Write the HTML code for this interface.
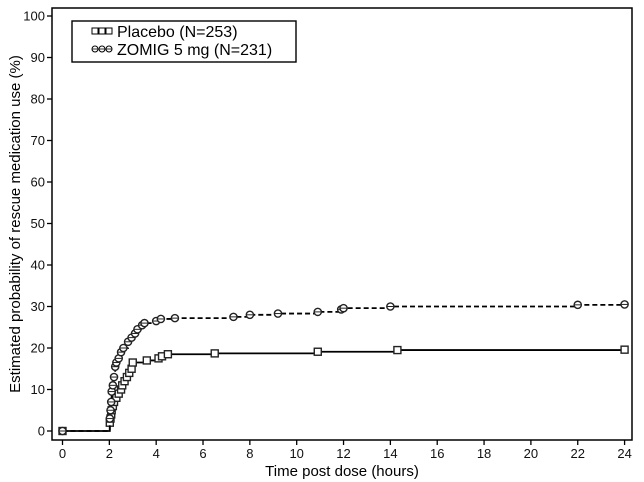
<!DOCTYPE html>
<html><head><meta charset="utf-8"><style>
body{margin:0;background:#fff;}
svg{display:block;font-family:"Liberation Sans",sans-serif;}
</style></head><body>
<svg id="chart" width="644" height="482" viewBox="0 0 644 482"></svg>
<script>
const xTicks=[0,2,4,6,8,10,12,14,16,18,20,22,24];
const yTicks=[0,10,20,30,40,50,60,70,80,90,100];
const placeboTimes=[0,2,2.02,2.05,2.08,2.1,2.15,2.2,2.3,2.4,2.5,2.55,2.65,2.75,2.85,2.95,3.0,3.6,4.1,4.25,4.5,6.5,10.9,14.3,24];
const placeboProb=[0,0,2,3,4,5,6,7,8,9,10,11,12,13,14,15,16.5,17,17.5,18,18.5,18.7,19.1,19.5,19.6];
const zomigTimes=[0,2,2.02,2.05,2.08,2.1,2.15,2.2,2.25,2.3,2.4,2.5,2.6,2.8,2.95,3.1,3.2,3.4,3.5,4.0,4.2,4.8,7.3,8,9.2,10.9,11.9,12.0,14,22,24];
const zomigProb=[0,0,3,5,7,9.5,11,13,15.5,16.5,17.5,19,20,21.5,22.5,23.5,24.5,25.5,26,26.5,27,27.2,27.5,28,28.3,28.7,29.3,29.6,30,30.4,30.5];
const NS="http://www.w3.org/2000/svg";
const svg=document.getElementById('chart');
const X=t=>62.5+t*23.42;
const Y=p=>431-p*4.15;
function mk(tag,at,parent){const e=document.createElementNS(NS,tag);for(const k in at)e.setAttribute(k,at[k]);(parent||svg).appendChild(e);return e;}
const frame=mk('rect',{x:52,y:8,width:580,height:432,fill:'none',stroke:'#000','stroke-width':1.5});


xTicks.forEach(t=>{
  mk('line',{x1:X(t),x2:X(t),y1:440,y2:445,stroke:'#000','stroke-width':1.3});
  const tx=mk('text',{x:X(t),y:458,'text-anchor':'middle','font-size':13,fill:'#111'});
  tx.textContent=t;
  
  
});
yTicks.forEach(v=>{
  mk('line',{x1:47,x2:52,y1:Y(v),y2:Y(v),stroke:'#000','stroke-width':1.3});
  const tx=mk('text',{x:45,y:Y(v)+4.5,'text-anchor':'end','font-size':13,fill:'#111'});
  tx.textContent=v;
  
  
});
const xt=mk('text',{x:342,y:476,'text-anchor':'middle','font-size':15});
xt.textContent='Time post dose (hours)';


const yt=mk('text',{x:0,y:0,'text-anchor':'middle','font-size':15,transform:'translate(20,224) rotate(-90)'});
yt.textContent='Estimated probability of rescue medication use (%)';


function stepPath(ts,ps){let d='M'+X(ts[0])+','+Y(ps[0]);for(let i=1;i<ts.length;i++){d+=' H'+X(ts[i])+' V'+Y(ps[i]);}return d;}
function series(ts,ps,dash,marker,name){
  const g=mk('g',{});
  
  
  mk('path',{d:stepPath(ts,ps),fill:'none',stroke:'#000','stroke-width':1.8,'stroke-dasharray':dash},g);
  for(let i=0;i<ts.length;i++){
    if(i==1)continue;
    let m;
    if(marker==='sq'){m=mk('rect',{x:X(ts[i])-3.5,y:Y(ps[i])-3.5,width:7,height:7,fill:'#fff',stroke:'#222','stroke-width':1.4},g);}
    else{m=mk('circle',{cx:X(ts[i]),cy:Y(ps[i]),r:3.6,fill:'#fff',stroke:'#222','stroke-width':1.4},g);
      mk('line',{x1:X(ts[i])-3,x2:X(ts[i])+3,y1:Y(ps[i]),y2:Y(ps[i]),stroke:'#222','stroke-width':1},g);}
    
    
  }
}
series(placeboTimes,placeboProb,'none','sq','placebo-series');
series(zomigTimes,zomigProb,'5,3','ci','zomig-series');
const lg=mk('g',{});


mk('rect',{x:72,y:21,width:224,height:41,fill:'#fff',stroke:'#000','stroke-width':1.4},lg);
for(let i=0;i<3;i++){mk('rect',{x:92+i*7,y:28,width:6,height:6,fill:'#fff',stroke:'#000'},lg);mk('circle',{cx:95+i*7,cy:49,r:3,fill:'#fff',stroke:'#000'},lg);mk('line',{x1:92+i*7,x2:98+i*7,y1:49,y2:49,stroke:'#000','stroke-width':0.8},lg);}
const l1=mk('text',{x:117,y:37,'font-size':16},lg);l1.textContent='Placebo (N=253)';


const l2=mk('text',{x:117,y:55,'font-size':16},lg);l2.textContent='ZOMIG 5 mg (N=231)';


</script>
</body></html>
